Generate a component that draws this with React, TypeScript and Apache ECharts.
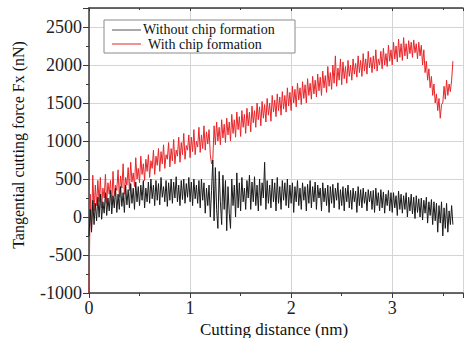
import React, { useEffect, useRef } from "react";
import * as echarts from "echarts";

const STEP = 0.0125;

const withChip = [
  -1000, 300, -150, 550, 80, 420, 150, 480,
  200, 520, 120, 380, 250, 560, 180, 450,
  300, 480, 160, 600, 280, 420, 350, 620,
  260, 540, 380, 700, 300, 520, 420, 650,
  350, 720, 460, 580, 400, 780, 500, 640,
  450, 800, 560, 700, 480, 760, 600, 820,
  520, 740, 640, 880, 560, 800, 680, 900,
  600, 860, 700, 950, 640, 820, 760, 980,
  660, 900, 740, 1020, 700, 880, 800, 1050,
  720, 980, 820, 1100, 760, 940, 880, 1080,
  780, 1050, 860, 1150, 820, 1000, 920, 1180,
  850, 1080, 900, 1200, 880, 1120, 960, 1150,
  820, 700, 760, 1200, 950, 1250, 1000, 1180,
  950, 1280, 1040, 1220, 980, 1300, 1080, 1250,
  1000, 1350, 1100, 1280, 1050, 1380, 1150, 1320,
  1060, 1400, 1180, 1350, 1100, 1430, 1200, 1380,
  1120, 1460, 1240, 1400, 1180, 1500, 1280, 1450,
  1200, 1520, 1300, 1480, 1250, 1560, 1340, 1500,
  1260, 1600, 1380, 1540, 1320, 1620, 1400, 1580,
  1340, 1650, 1420, 1600, 1380, 1700, 1460, 1640,
  1400, 1720, 1500, 1680, 1450, 1760, 1540, 1700,
  1480, 1780, 1560, 1740, 1500, 1820, 1600, 1760,
  1550, 1850, 1620, 1800, 1580, 1880, 1660, 1840,
  1600, 1920, 1700, 1860, 1640, 1980, 1720, 1900,
  1680, 2000, 1760, 2120, 1720, 1960, 1800, 2080,
  1740, 2040, 1820, 1980, 1760, 2060, 1850, 2000,
  1800, 2080, 1880, 2020, 1840, 2120, 1900, 2060,
  1850, 2150, 1920, 2080, 1880, 2180, 1960, 2100,
  1900, 2120, 1950, 2200, 1920, 2080, 2000, 2180,
  1950, 2220, 2000, 2150, 1980, 2260, 2050, 2200,
  2000, 2300, 2080, 2250, 2040, 2340, 2100, 2280,
  2060, 2360, 2120, 2280, 2080, 2320, 2150, 2300,
  2100, 2330, 2160, 2280, 2080, 2300, 2120, 2260,
  2000, 2200, 1900, 2050, 1800, 1950, 1700, 1850,
  1600, 1750, 1500, 1620, 1400, 1560, 1300, 1480,
  1500, 1720, 1550, 1800, 1600, 1750, 1650, 1800,
  2050,
];

const withoutChip = [
  -250, 100, -200, 220, -100, 180, -50, 260,
  0, 300, -30, 200, 50, 320, 20, 250,
  80, 350, 40, 280, 120, 380, 60, 300,
  100, 400, 140, 320, 60, 420, 160, 360,
  120, 440, 180, 380, 100, 460, 200, 400,
  150, 420, 220, 480, 120, 380, 200, 460,
  180, 500, 240, 420, 150, 480, 220, 440,
  160, 520, 260, 400, 200, 480, 140, 450,
  220, 500, 180, 460, 250, 530, 200, 420,
  150, 480, 230, 500, 180, 440, 260, 520,
  200, 460, 150, 500, 240, 420, 180, 480,
  120, 500, 220, 450, 50, 380, 150, 420,
  0, 350, 750, -50, 650, 100, -150, 600,
  200, -100, 550, 100, 480, -180, 400, 50,
  -150, 500, 150, 420, 0, 580, 120, 450,
  80, 520, 200, 380, 100, 480, 250, 550,
  100, 460, 200, 530, 150, 420, 80, 500,
  150, 450, 250, 720, 100, 480, 180, 420,
  120, 500, 200, 450, 80, 520, 180, 400,
  100, 480, 220, 450, 150, 500, 120, 420,
  180, 450, 60, 400, 200, 480, 150, 380,
  100, 450, 220, 400, 80, 430, 180, 480,
  120, 400, 200, 460, 100, 420, 250, 380,
  80, 450, 200, 380, 150, 420, 60, 400,
  180, 430, 120, 380, 220, 450, 100, 360,
  150, 400, 80, 380, 200, 420, 120, 350,
  100, 380, 200, 340, 60, 400, 150, 360,
  120, 380, 180, 330, 80, 360, 200, 340,
  100, 350, 60, 380, 150, 320, 80, 360,
  120, 330, 50, 300, 150, 350, 80, 320,
  60, 320, 120, 280, 20, 340, 100, 300,
  50, 280, 100, 320, 0, 260, 80, 300,
  40, 260, -20, 280, 60, 240, 0, 250,
  -40, 220, 50, 260, -80, 200, 20, 230,
  -100, 200, -50, 180, -200, 150, -80, 200,
  -250, 120, -150, 180, -200, 80, -100, 150,
  -100,
];

const yTicks = [-1000, -500, 0, 500, 1000, 1500, 2000, 2500];
const xTicks = [0, 1, 2, 3];

const seriesNames = ["Without chip formation", "With chip formation"];
const xTitle = "Cutting distance (nm)";
const yTitle = "Tangential cutting force Fx (nN)";

const FONT = "'Times New Roman', 'Liberation Serif', 'DejaVu Serif', serif";

export default function App() {
  const ref = useRef<HTMLDivElement>(null);

  useEffect(() => {
    if (!ref.current) return;
    const chart = echarts.init(ref.current, null, { renderer: "svg" });
    const toPairs = (arr: number[]) => arr.map((v, i) => [i * STEP, v]);
    const axisLineColor = "#3a3a3a";
    chart.setOption({
      animation: false,
      backgroundColor: "#ffffff",
      textStyle: { fontFamily: FONT },
      grid: { left: 89, top: 8, width: 379, height: 285 },
      xAxis: [
        {
          type: "value",
          min: 0,
          max: 3.7,
          interval: 1,
          axisLine: { show: true, onZero: false, lineStyle: { color: axisLineColor, width: 1.5 } },
          axisTick: { show: true, inside: false, length: 5, lineStyle: { color: axisLineColor } },
          minorTick: { show: true, splitNumber: 2, length: 3, lineStyle: { color: axisLineColor } },
          axisLabel: {
            color: "#222",
            fontFamily: FONT,
            fontSize: 18,
            margin: 6,
            formatter: (v: number) => (xTicks.includes(v) ? String(v) : ""),
          },
          splitLine: { show: true, lineStyle: { color: "#d4d4d4", width: 1 } },
        },
        {
          type: "value",
          position: "top",
          min: 0,
          max: 3.7,
          interval: 1,
          axisLine: { show: true, onZero: false, lineStyle: { color: axisLineColor, width: 1.5 } },
          axisTick: { show: true, inside: true, length: 3, lineStyle: { color: axisLineColor } },
          minorTick: { show: true, splitNumber: 2, length: 2, lineStyle: { color: axisLineColor } },
          axisLabel: { show: false },
          splitLine: { show: false },
        },
      ],
      yAxis: {
        type: "value",
        min: -1000,
        max: 2750,
        interval: 500,
        axisLine: { show: true, onZero: false, lineStyle: { color: axisLineColor, width: 1.5 } },
        axisTick: { show: true, inside: false, length: 6, lineStyle: { color: axisLineColor } },
        minorTick: { show: true, splitNumber: 2, length: 3, lineStyle: { color: axisLineColor } },
        axisLabel: {
          color: "#222",
          fontFamily: FONT,
          fontSize: 18,
          margin: 7,
          formatter: (v: number) => (yTicks.includes(v) ? String(v) : ""),
        },
        splitLine: { show: true, lineStyle: { color: "#d4d4d4", width: 1 } },
      },
      series: [
        {
          name: seriesNames[0],
          type: "line",
          data: toPairs(withoutChip),
          showSymbol: false,
          lineStyle: { color: "#1a1a1a", width: 1 },
          itemStyle: { color: "#1a1a1a" },
          z: 3,
        },
        {
          name: seriesNames[1],
          type: "line",
          data: toPairs(withChip),
          showSymbol: false,
          lineStyle: { color: "#e8262a", width: 1 },
          itemStyle: { color: "#e8262a" },
          z: 2,
        },
      ],
      graphic: [
        {
          type: "rect",
          shape: { x: 104, y: 20, width: 191, height: 33 },
          style: { fill: "#ffffff", stroke: "#8a8a8a", lineWidth: 1 },
          z: 10,
        },
        {
          type: "line",
          shape: { x1: 112, y1: 30, x2: 141, y2: 30 },
          style: { stroke: "#555", lineWidth: 1 },
          z: 11,
        },
        {
          type: "line",
          shape: { x1: 112, y1: 44, x2: 141, y2: 44 },
          style: { stroke: "#e8262a", lineWidth: 1 },
          z: 11,
        },
        {
          type: "text",
          x: 143,
          y: 29,
          style: {
            text: seriesNames[0],
            fontFamily: FONT,
            fontSize: 14,
            fill: "#111",
            verticalAlign: "middle",
          },
          z: 11,
        },
        {
          type: "text",
          x: 148,
          y: 44.5,
          style: {
            text: seriesNames[1],
            fontFamily: FONT,
            fontSize: 14,
            fill: "#111",
            verticalAlign: "middle",
          },
          z: 11,
        },
        {
          type: "text",
          x: 274,
          y: 329,
          style: {
            text: xTitle,
            fontFamily: FONT,
            fontSize: 17,
            fill: "#111",
            align: "center",
            verticalAlign: "middle",
          },
        },
        {
          type: "text",
          x: 18,
          y: 145,
          rotation: Math.PI / 2,
          style: {
            text: yTitle,
            fontFamily: FONT,
            fontSize: 16,
            fill: "#111",
            align: "center",
            verticalAlign: "middle",
          },
        },
      ],
    });
    return () => chart.dispose();
  }, []);

  return (
    <div
      ref={ref}
      style={{ position: "fixed", left: 0, top: 0, width: 466, height: 338, background: "#fff" }}
    />
  );
}
